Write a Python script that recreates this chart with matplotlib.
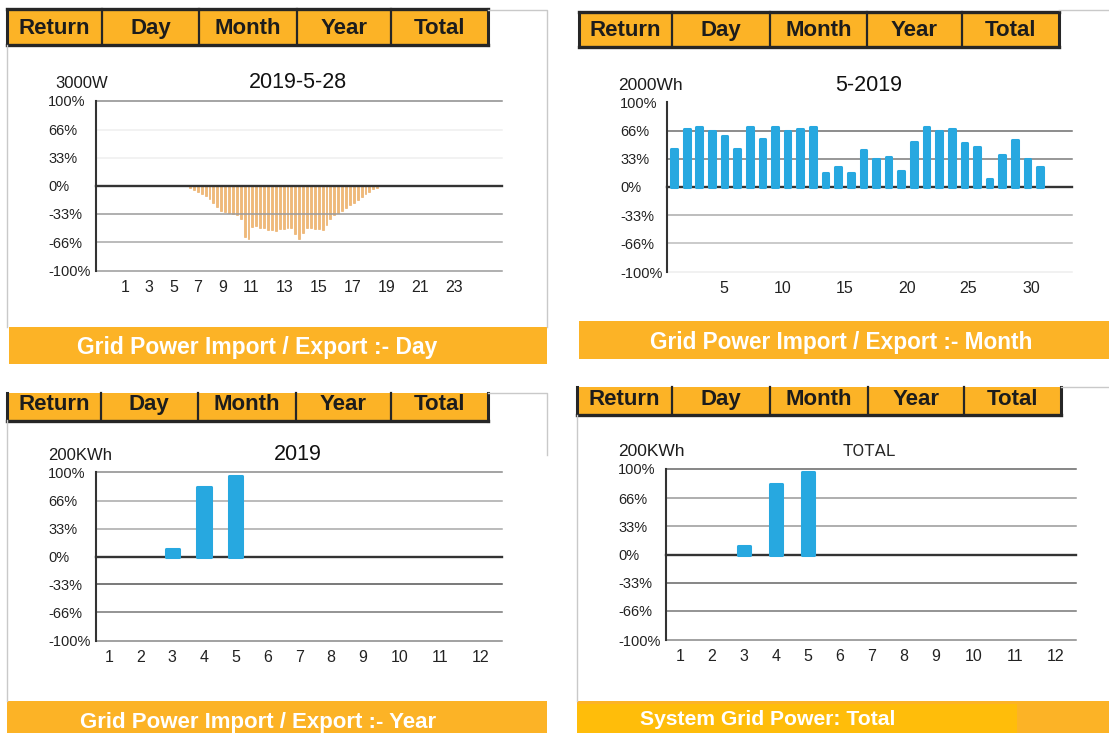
import matplotlib
matplotlib.use('Agg')
import matplotlib.pyplot as plt
from matplotlib.patches import Rectangle

plt.rcParams['font.family'] = ['Liberation Sans', 'DejaVu Sans']

W, H = 1109, 733

# grid power as % of full scale (negative = export)
day_first_slot = 6.5          # hour of the first 15-minute reading
day_power = [-3, -5, -7, -10, -12.5, -15.5, -20, -25, -29, -31, -32, -33, -34,
             -39, -60, -63, -48, -47, -50, -50, -52, -52, -53, -51, -51, -49,
             -50, -56, -63, -55, -49, -49, -50.5, -51, -52, -46.5, -39.5, -34,
             -31.5, -29, -26.5, -23, -20, -16.5, -13.5, -10, -7, -4, -2]
day_labels = ['1', '3', '5', '7', '9', '11', '13', '15', '17', '19', '21', '23']

month_days = list(range(1, 31))
month_energy = [45, 68, 71, 66, 60, 45, 71, 57, 71, 66, 68, 71, 16, 23, 16,
                43, 33, 35, 19, 53, 71, 66, 68, 52, 47, 10, 38, 55, 33, 24]
month_labels = ['5', '10', '15', '20', '25', '30']

year_months = [3, 4, 5]
year_energy = [9, 82, 95]
total_months = [3, 4, 5]
total_energy = [10, 82, 97]
month_names = [str(m) for m in range(1, 13)]

y_levels = [100, 66, 33, 0, -33, -66, -100]
tabs = ['Return', 'Day', 'Month', 'Year', 'Total']

TAB = '#FCB326'
BLUE = '#27A8E0'
ORANGE = '#F0BA78'
DARK = '#1c1c1c'

fig = plt.figure(figsize=(W / 100, H / 100), dpi=100)
fig.patch.set_facecolor('white')

# pixel-space layer for tabs, caption bars and frames
ov = fig.add_axes([0, 0, 1, 1], zorder=0)
ov.set_xlim(0, W)
ov.set_ylim(H, 0)
ov.axis('off')


def tab_bar(x0, x1, y0, y1, dividers, text_y, top_border=True):
    rect = Rectangle((x0, y0), x1 - x0, y1 - y0, facecolor=TAB, edgecolor='none')
    ov.add_patch(rect)
    edges = [x0] + dividers + [x1]
    for name, a, b in zip(tabs, edges[:-1], edges[1:]):
        t = ov.text((a + b) / 2, text_y, name, ha='center', va='baseline',
                    fontsize=16, fontweight='bold', color=DARK)
        t.set_clip_path(rect)
    for d in dividers:
        ov.plot([d, d], [y0, y1], color='#262626', lw=1.6)
    ov.plot([x0, x0], [y0, y1], color='#262626', lw=2.2)
    ov.plot([x1, x1], [y0, y1], color='#262626', lw=2.2)
    ov.plot([x0, x1], [y1, y1], color='#262626', lw=2.4)
    if top_border:
        ov.plot([x0, x1], [y0, y0], color='#262626', lw=2.4)


def caption(x0, x1, y0, y1, text, tx, ty, size, ha='center'):
    ov.add_patch(Rectangle((x0, y0), x1 - x0, y1 - y0, facecolor=TAB, edgecolor='none'))
    ov.text(tx, ty, text, ha=ha, va='baseline', fontsize=size,
            fontweight='bold', color='white')


def frame(xs, ys):
    ov.plot(xs, ys, color='#c9c9c9', lw=1.0)


def chart(left, right, top, bottom, xlim, grid, label_gap):
    ax = fig.add_axes([left / W, 1 - bottom / H, (right - left) / W, (bottom - top) / H],
                      zorder=2)
    ax.patch.set_visible(False)
    ax.set_xlim(*xlim)
    ax.set_ylim(-100, 100)
    for lvl in y_levels:
        c = grid.get(lvl)
        if c is None:
            continue
        ax.axhline(lvl, color=c, lw=1.7 if lvl == 0 else 1.1, zorder=1, clip_on=False)
    for side in ['top', 'right', 'bottom']:
        ax.spines[side].set_visible(False)
    ax.spines['left'].set_color('#333333')
    ax.spines['left'].set_linewidth(1.5)
    ax.set_yticks(y_levels, [f'{v}%' for v in y_levels])
    ax.tick_params(axis='y', length=0, pad=label_gap * 0.72, labelsize=10.5,
                   labelcolor='#222222')
    for t in ax.get_yticklabels():
        t.set_ha('left')
    ax.tick_params(axis='x', length=0, pad=6.5, labelsize=11.5, labelcolor='#222222')
    return ax


# ---- Day ----
tab_bar(7, 488, 9, 45, [102, 199, 297, 391], 34)
frame([488, 547, 547], [10, 10, 327])
frame([7, 7], [45, 327])
ax = chart(96, 502, 100.7, 271, (0.474, 26.5),
           {100: '#8c8c8c', 66: '#efefef', 33: '#efefef', 0: '#333333',
            -33: '#9a9a9a', -66: '#a8a8a8', -100: '#9a9a9a'}, 48)
hours = [day_first_slot + 0.25 * i for i in range(len(day_power))]
ax.bar(hours, day_power, width=0.12, color=ORANGE, edgecolor='#E8A458',
       linewidth=0.4, zorder=0.5)
ax.set_xticks([2.33, 3.84, 5.44, 7.01, 8.61, 10.41, 12.59, 14.74, 16.92,
               19.10, 21.27, 23.42], day_labels)
ov.text(55, 83, '3000W', ha='left', va='center', fontsize=12, color=DARK)
ov.text(298, 83, '2019-5-28', ha='center', va='center', fontsize=15.5, color='#111111')
caption(9, 547, 327, 364, 'Grid Power Import / Export :- Day', 257, 354, 16.5)

# ---- Month ----
tab_bar(579, 1059, 12, 47, [672, 770, 867, 962], 36)
frame([1059, 1109], [10, 10])
ax = chart(667, 1072, 102, 272, (0.44, 32.53),
           {66: '#6e6e6e', 33: '#7a7a7a', 0: '#333333',
            -33: '#ababab', -66: '#bcbcbc', -100: '#eeeeee'}, 47)
ax.bar(month_days, month_energy, width=0.45, color=BLUE, edgecolor=BLUE,
       linewidth=2.2, joinstyle='round', zorder=2)
ax.set_xticks([4.97, 9.58, 14.5, 19.5, 24.3, 29.3], month_labels)
ov.text(618, 85, '2000Wh', ha='left', va='center', fontsize=12.5, color=DARK)
ov.text(869, 85.5, '5-2019', ha='center', va='center', fontsize=15.5, color='#111111')
caption(579, 1109, 321, 359, 'Grid Power Import / Export :- Month', 841, 349, 16.3)

# ---- Year ----
tab_bar(7, 488, 393, 420.5, [100.5, 198, 295.5, 390.5], 410, top_border=False)
frame([488, 547, 547], [393, 393, 455])
frame([7, 7], [420, 701])
ax = chart(96, 502, 472, 641, (0.59, 13.4),
           {100: '#8a8a8a', 66: '#a8a8a8', 33: '#a8a8a8', 0: '#333333',
            -33: '#555555', -66: '#777777', -100: '#888888'}, 48)
ax.bar(year_months, year_energy, width=0.42, color=BLUE, edgecolor=BLUE,
       linewidth=2.2, joinstyle='round', zorder=2)
ax.set_xticks([1, 2, 3, 4, 5, 6, 7, 8, 9, 10.18, 11.44, 12.73], month_names)
ov.text(48, 455, '200KWh', ha='left', va='center', fontsize=12, color=DARK)
ov.text(298, 455, '2019', ha='center', va='center', fontsize=15.5, color='#111111')
caption(7, 547, 701, 733, 'Grid Power Import / Export :- Year', 258, 728, 16)

# ---- Total ----
tab_bar(577, 1061, 386.5, 415, [671.5, 770, 868, 963.5], 405, top_border=False)
frame([1061, 1109], [387, 387])
frame([577, 577], [415, 701])
ax = chart(666, 1076, 469, 640, (0.5625, 13.375),
           {100: '#666666', 66: '#999999', 33: '#999999', 0: '#333333',
            -33: '#666666', -66: '#777777', -100: '#888888'}, 48)
ax.bar(total_months, total_energy, width=0.4, color=BLUE, edgecolor=BLUE,
       linewidth=2.2, joinstyle='round', zorder=2)
ax.set_xticks([1, 2, 3, 4, 5, 6, 7, 8, 9, 10.19, 11.47, 12.75], month_names)
ov.text(618, 451.5, '200KWh', ha='left', va='center', fontsize=12.5, color=DARK)
ov.text(869, 451, 'TOTAL', ha='center', va='center', fontsize=12.5,
        color='#2a2a2a', family=['Roboto', 'Liberation Sans'])
ov.add_patch(Rectangle((577, 701), 532, 32, facecolor=TAB, edgecolor='none'))
ov.add_patch(Rectangle((577, 704), 440, 29, facecolor='#FFBD0A', edgecolor='none'))
ov.text(640, 725, 'System Grid Power: Total', ha='left', va='baseline',
        fontsize=15.2, fontweight='bold', color='white')

fig.savefig('out.png', dpi=100, facecolor='white')
